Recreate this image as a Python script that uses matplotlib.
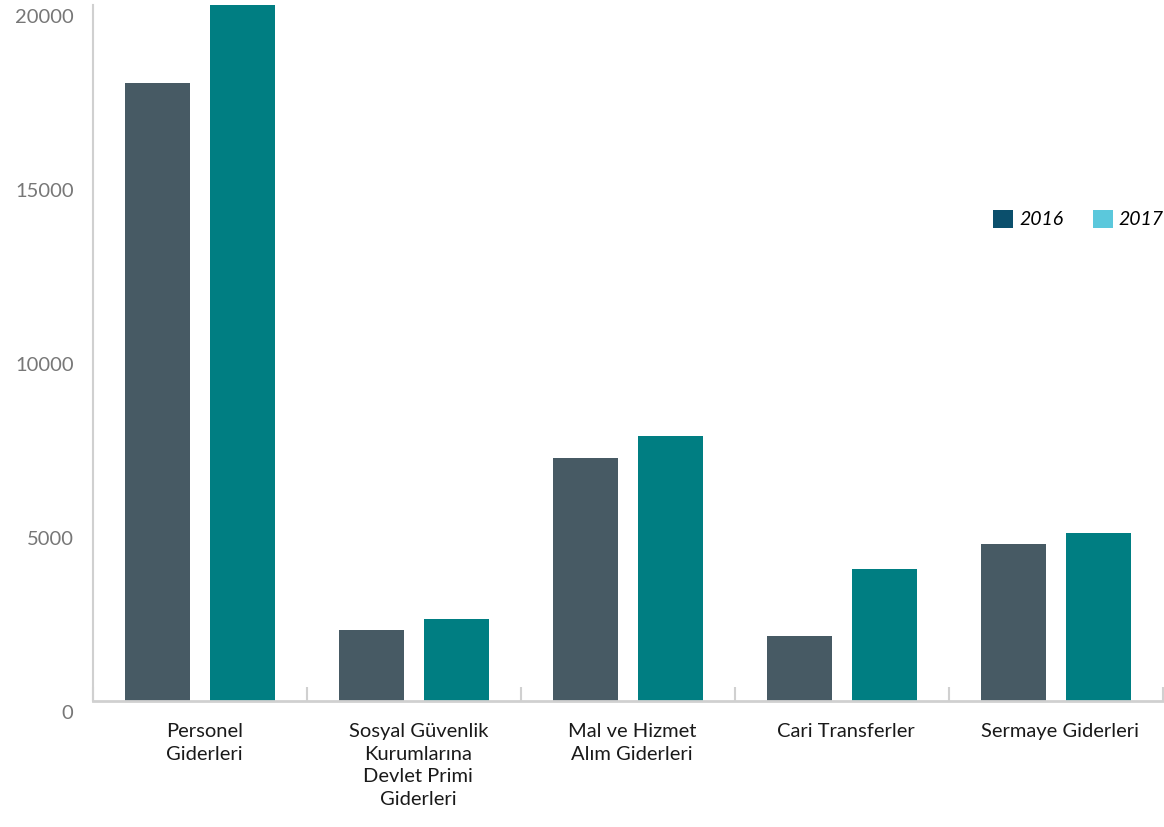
import matplotlib
matplotlib.use("Agg")
import matplotlib.pyplot as plt
import numpy as np
from matplotlib.patches import Patch
from matplotlib.transforms import ScaledTranslation

# ── Data ─────────────────────────────────────────────────────────────────────
categories = [
    "Personel\nGiderleri",
    "Sosyal Güvenlik\nKurumlarına\nDevlet Primi\nGiderleri",
    "Mal ve Hizmet\nAlım Giderleri",
    "Cari Transferler",
    "Sermaye Giderleri",
]
values_2016 = [17760, 2040, 6980, 1870, 4510]
values_2017 = [20300, 2360, 7610, 3790, 4830]
years = ["2016", "2017"]
yticks = [0, 5000, 10000, 15000, 20000]

BAR_COLORS    = ["#475a64", "#007e82"]
LEGEND_COLORS = ["#0b4f6c", "#5bc8dc"]

plt.rcParams["font.family"] = ["Lato", "DejaVu Sans"]

fig = plt.figure(figsize=(11.64, 8.27), dpi=100)
ax = fig.add_axes([93 / 1164, 126 / 827, 1070 / 1164, 696 / 827])

x = np.arange(len(categories))
w = 0.304
off = 0.2
ax.bar(x - off, values_2016, width=w, color=BAR_COLORS[0])
ax.bar(x + off, values_2017, width=w, color=BAR_COLORS[1])

ax.set_xlim(-0.5, len(categories) - 0.5)
ax.set_ylim(0, 20000)

# spines
for s in ["top", "right"]:
    ax.spines[s].set_visible(False)
ax.spines["left"].set_color("#d0d0d0")
ax.spines["bottom"].set_color("#d0d0d0")
ax.spines["left"].set_linewidth(1.5)
ax.spines["bottom"].set_linewidth(2)

# x ticks at group boundaries, labels at centres
ax.set_xticks(np.arange(-0.5, len(categories) + 0.5, 1.0))
ax.set_xticklabels([])
ax.tick_params(axis="x", which="major", direction="in", length=10,
               width=1.5, color="#d0d0d0")
ax.set_xticks(x + 0.02, minor=True)
ax.set_xticklabels(categories, minor=True, fontsize=14.5, color="#1a1a1a",
                   linespacing=1.4)
ax.tick_params(axis="x", which="minor", length=0, pad=16)

# y ticks
ax.set_yticks(yticks)
ax.set_yticklabels([str(v) for v in yticks], fontsize=14.5, color="#777777")
ax.tick_params(axis="y", length=0, pad=14)
shift = ScaledTranslation(0, -11 / 100, fig.dpi_scale_trans)
for lab in ax.get_yticklabels():
    lab.set_transform(lab.get_transform() + shift)

# legend
handles = [Patch(facecolor=c, edgecolor="none") for c in LEGEND_COLORS]
ax.legend(handles, years, ncol=2, frameon=False,
          loc="center left", bbox_to_anchor=(993 / 1164, 1 - 219 / 827),
          bbox_transform=fig.transFigure, borderpad=0, borderaxespad=0,
          prop={"style": "italic", "size": 14},
          handlelength=1.05, handleheight=1.05, handletextpad=0.3,
          columnspacing=1.5)

fig.savefig("out.png", dpi=100)
